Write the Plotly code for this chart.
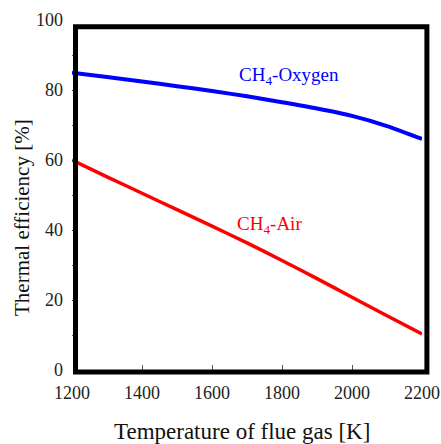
import plotly.graph_objects as go

temperature = [1200, 1300, 1400, 1500, 1600, 1700, 1800, 1900, 2000, 2100, 2200]
eff_oxygen = [84.9, 83.7, 82.4, 81.1, 79.7, 78.2, 76.5, 74.7, 72.6, 69.7, 66.0]
eff_air = [60.0, 55.2, 50.5, 45.8, 41.1, 36.3, 31.3, 26.1, 20.8, 15.5, 10.3]

x_ticks = [1200, 1400, 1600, 1800, 2000, 2200]
y_ticks = [0, 20, 40, 60, 80, 100]

FF = "Liberation Serif, serif"

fig = go.Figure()
fig.add_trace(go.Scatter(x=temperature, y=eff_oxygen, mode="lines",
                         line=dict(color="#0000ff", width=4, shape="spline", smoothing=0.8),
                         showlegend=False, cliponaxis=False))
fig.add_trace(go.Scatter(x=temperature, y=eff_air, mode="lines",
                         line=dict(color="#ff0000", width=3.5, shape="spline", smoothing=0.8),
                         showlegend=False, cliponaxis=False))

fig.add_annotation(x=0.47, y=0.84, xref="paper", yref="paper",
                   text="CH<sub>4</sub>-Oxygen", showarrow=False,
                   xanchor="left", yanchor="middle",
                   font=dict(family=FF, size=19, color="#0000ff"))
fig.add_annotation(x=0.467, y=0.415, xref="paper", yref="paper",
                   text="CH<sub>4</sub>-Air", showarrow=False,
                   xanchor="left", yanchor="middle",
                   font=dict(family=FF, size=19, color="#ff0000"))

# axis titles
fig.add_annotation(x=0.486, y=-0.177, xref="paper", yref="paper",
                   text="Temperature of flue gas [K]", showarrow=False,
                   xanchor="center", yanchor="middle",
                   font=dict(family=FF, size=23, color="#111"))
fig.add_annotation(x=-0.143, y=0.437, xref="paper", yref="paper",
                   text="Thermal efficiency [%]", showarrow=False, textangle=-90,
                   xanchor="center", yanchor="middle",
                   font=dict(family=FF, size=21, color="#111"))

# frame
fig.add_shape(type="rect", xref="paper", yref="paper",
              x0=0.01, x1=1.014, y0=-0.006, y1=0.981,
              line=dict(color="black", width=5), layer="above")

fig.update_layout(
    width=441, height=444,
    margin=dict(l=72, r=19, t=20, b=74),
    paper_bgcolor="white", plot_bgcolor="white",
    font=dict(family=FF, size=18, color="#222"),
    xaxis=dict(range=[1200, 2200], tickvals=x_ticks, ticks="inside", ticklen=5,
               tickcolor="#555", tickwidth=1, showgrid=False, zeroline=False,
               showline=False, ticklabelstandoff=10, automargin=False,
               tickfont=dict(family=FF, size=18, color="#222")),
    yaxis=dict(range=[0, 100], tickvals=y_ticks, ticks="inside", ticklen=6,
               tickcolor="#333", tickwidth=1, showgrid=False, zeroline=False,
               showline=False, ticklabelstandoff=8, automargin=False,
               tickfont=dict(family=FF, size=18, color="#222"),
               minor=dict(dtick=10, ticks="inside", ticklen=6, tickcolor="#555", tickwidth=1)),
)

fig.write_html("out.html")
